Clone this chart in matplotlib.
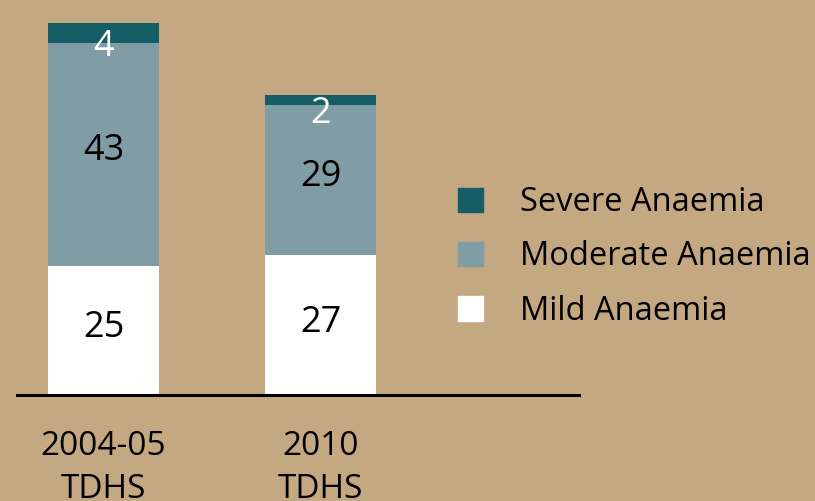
import matplotlib.pyplot as plt
from matplotlib.patches import Patch

surveys = ['2004-05\nTDHS', '2010\nTDHS']
mild = [25, 27]
moderate = [43, 29]
severe = [4, 2]

bg = '#c4a881'
c_mild = '#ffffff'
c_mod = '#809da5'
c_sev = '#155e66'

plt.rcParams['font.family'] = ['Open Sans', 'DejaVu Sans']

fig = plt.figure(figsize=(8.15, 5.01), dpi=100, facecolor=bg)
# axes spans the baseline from x=17 to 579 px, baseline at y=395 px
ax = fig.add_axes([17 / 815, (501 - 395) / 501, 562 / 815, 395 / 501])
ax.set_facecolor(bg)

x = list(range(len(surveys)))
w = 0.51
bot2 = [a + b for a, b in zip(mild, moderate)]
ax.bar(x, mild, w, color=c_mild, label='Mild Anaemia')
ax.bar(x, moderate, w, bottom=mild, color=c_mod, label='Moderate Anaemia')
ax.bar(x, severe, w, bottom=bot2, color=c_sev, label='Severe Anaemia')

ax.set_xlim(-0.399, 2.191)
ax.set_ylim(0, 76.4)

fs = 26
for i in x:
    ax.text(i, mild[i] / 2 + 0.5, str(mild[i]), ha='center', va='center', fontsize=fs, color='black')
    ax.text(i, mild[i] + moderate[i] / 2 + 0.6, str(moderate[i]), ha='center', va='center', fontsize=fs, color='black')
    ax.text(i, bot2[i] + severe[i] / 2 - 2.6, str(severe[i]), ha='center', va='center', fontsize=fs, color='white')

for s in ['top', 'right', 'left']:
    ax.spines[s].set_visible(False)
ax.spines['bottom'].set_linewidth(2.2)
ax.spines['bottom'].set_color('black')
ax.set_yticks([])
ax.set_xticks(x)
ax.set_xticklabels(surveys, fontsize=24, linespacing=1.42)
ax.tick_params(axis='x', length=0, pad=25)

handles = [Patch(color=c_sev), Patch(color=c_mod), Patch(color=c_mild)]
labels = ['Severe Anaemia', 'Moderate Anaemia', 'Mild Anaemia']
fig.legend(handles, labels, loc='center left', bbox_to_anchor=(458 / 815, 1 - 257 / 501),
           frameon=False, fontsize=23.5, handlelength=0.78, handleheight=0.78,
           handletextpad=1.13, labelspacing=0.65, borderpad=0, borderaxespad=0)

fig.savefig('out.png', dpi=100, facecolor=bg)
